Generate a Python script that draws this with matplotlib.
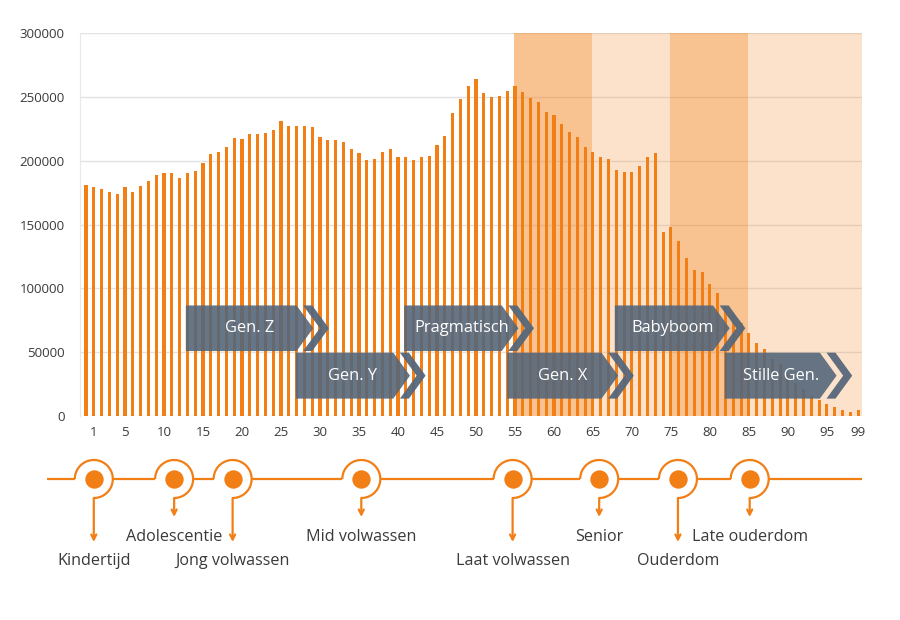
import matplotlib.pyplot as plt
from matplotlib.patches import Polygon, Arc

# population per age (0..99)
ages = list(range(100))
population = [
    181000, 179000, 177500, 175500, 174000, 179000, 175500, 180500, 184000, 189000,
    190000, 190500, 186500, 190500, 192000, 198000, 205000, 206500, 210500, 218000,
    217000, 220500, 220500, 222000, 224000, 231000, 227500, 227000, 227500, 226000,
    218500, 216500, 216500, 215000, 209500, 206000, 200500, 201500, 206500, 209000,
    202500, 203000, 200500, 202500, 203500, 212500, 219500, 237000, 248500, 258500,
    264000, 253000, 250000, 251000, 254500, 258500, 254000, 249000, 246000, 238500,
    236000, 228500, 222500, 218500, 211000, 207000, 202500, 201500, 192500, 191500,
    191500, 195500, 202500, 206000, 144500, 148000, 137000, 123500, 114000, 112500,
    103500, 96500, 86000, 79500, 72500, 65000, 57500, 52500, 45000, 40500,
    32500, 26000, 21500, 16000, 12500, 9500, 7000, 5000, 3300, 4500,
]
tick_ages = [1, 5, 10, 15, 20, 25, 30, 35, 40, 45, 50, 55, 60, 65, 70, 75, 80, 85, 90, 95, 99]
y_ticks = [0, 50000, 100000, 150000, 200000, 250000, 300000]

# generations (age span of each arrow box)
generations = ["Gen. Z", "Gen. Y", "Pragmatisch", "Gen. X", "Babyboom", "Stille Gen."]
gen_start = [12.8, 26.9, 40.8, 54.0, 67.8, 81.9]
gen_end = [27.0, 39.4, 53.3, 66.1, 80.4, 94.1]

# shaded age bands
band_edges = [54.9, 64.9, 74.9, 84.9, 99.5]

# life stages on the timeline
stages = ["Kindertijd", "Adolescentie", "Jong volwassen", "Mid volwassen",
          "Laat volwassen", "Senior", "Ouderdom", "Late ouderdom"]
stage_ages = [1.0, 11.3, 18.8, 35.3, 54.7, 65.8, 75.9, 85.1]

ORANGE = "#F27F16"
SLATE = "#56677A"
TEXT = "#3a3a3a"
FONT = "Open Sans"

W, H = 900, 620
fig = plt.figure(figsize=(9, 6.2), dpi=100)
fig.patch.set_facecolor("white")

x0, x1 = -0.77, 99.5
ax = fig.add_axes([80 / W, 1 - 416 / H, 782 / W, 383 / H])
ax.set_xlim(x0, x1)
ax.set_ylim(0, 300000)
ppa = 782 / (x1 - x0)  # pixels per age

for y in y_ticks:
    ax.axhline(y, color="#e2e2e2", lw=1, zorder=0)

for i in range(len(band_edges) - 1):
    alpha = 0.47 if i % 2 == 0 else 0.22
    ax.axvspan(band_edges[i], band_edges[i + 1], color=ORANGE, alpha=alpha, lw=0, zorder=1)

ax.bar(ages, population, width=0.4, color=ORANGE, zorder=2)

# arrow boxes
pt = 16.7 / ppa
gap = 6.6 / ppa
cw = 9.0 / ppa
for i, name in enumerate(generations):
    if i % 2 == 0:
        lo, hi = 50900, 86600
    else:
        lo, hi = 13600, 49600
    mid = (lo + hi) / 2
    l, r = gen_start[i], gen_end[i]
    body = Polygon([(l, hi), (r, hi), (r + pt, mid), (r, lo), (l, lo)],
                   closed=True, fc=SLATE, ec="none", alpha=0.9, zorder=3)
    a = r + gap
    chev = Polygon([(a, hi), (a + cw, hi), (a + cw + pt, mid), (a + cw, lo), (a, lo), (a + pt, mid)],
                   closed=True, fc=SLATE, ec="none", alpha=0.95, zorder=3)
    ax.add_patch(body)
    ax.add_patch(chev)
    ax.text((l + r + pt) / 2, mid, name, color="white", fontsize=11.8, family=FONT,
            ha="center", va="center", zorder=4)

ax.set_xticks(tick_ages)
ax.set_xticklabels([str(t) for t in tick_ages])
ax.set_yticks(y_ticks)
ax.set_yticklabels([str(t) for t in y_ticks])
ax.tick_params(axis="both", length=0, labelsize=9.5, colors=TEXT)
ax.tick_params(axis="y", pad=11)
ax.tick_params(axis="x", pad=7)
for lab in ax.get_xticklabels() + ax.get_yticklabels():
    lab.set_family(FONT)
for s in ["top", "right", "bottom"]:
    ax.spines[s].set_visible(False)
ax.spines["left"].set_color("#e8e8e8")
ax.set_facecolor("none")

# timeline
tax = fig.add_axes([0, 0, 1, 180 / H])
tax.set_xlim(x0 - 80 / ppa, x1 + 38 / ppa)
tax.set_ylim(0, 180)
tax.axis("off")

line_y = H - 479
rx = 19 / ppa
ry = 19
seg_x = [x0 - 33 / ppa]
for m in stage_ages:
    seg_x += [m - rx, m + rx]
seg_x.append(x1)
for i in range(0, len(seg_x), 2):
    tax.plot([seg_x[i], seg_x[i + 1]], [line_y, line_y], color=ORANGE, lw=1.6,
             solid_capstyle="butt")

for i, (m, name) in enumerate(zip(stage_ages, stages)):
    tax.add_patch(Arc((m, line_y), 2 * rx, 2 * ry, theta1=-90, theta2=180,
                      color=ORANGE, lw=1.6))
    tax.scatter([m], [line_y], s=175, color=ORANGE, zorder=3, linewidths=0)
    long = i % 2 == 0
    end = H - 542 if long else H - 517
    tax.annotate("", xy=(m, end), xytext=(m, line_y - ry),
                 arrowprops=dict(arrowstyle="->", color=ORANGE, lw=1.6,
                                 shrinkA=0, shrinkB=0, mutation_scale=9))
    ty = H - 561 if long else H - 537
    tax.text(m, ty, name, ha="center", va="center", fontsize=11.6, family=FONT, color=TEXT)

fig.savefig("out.png", dpi=100)
